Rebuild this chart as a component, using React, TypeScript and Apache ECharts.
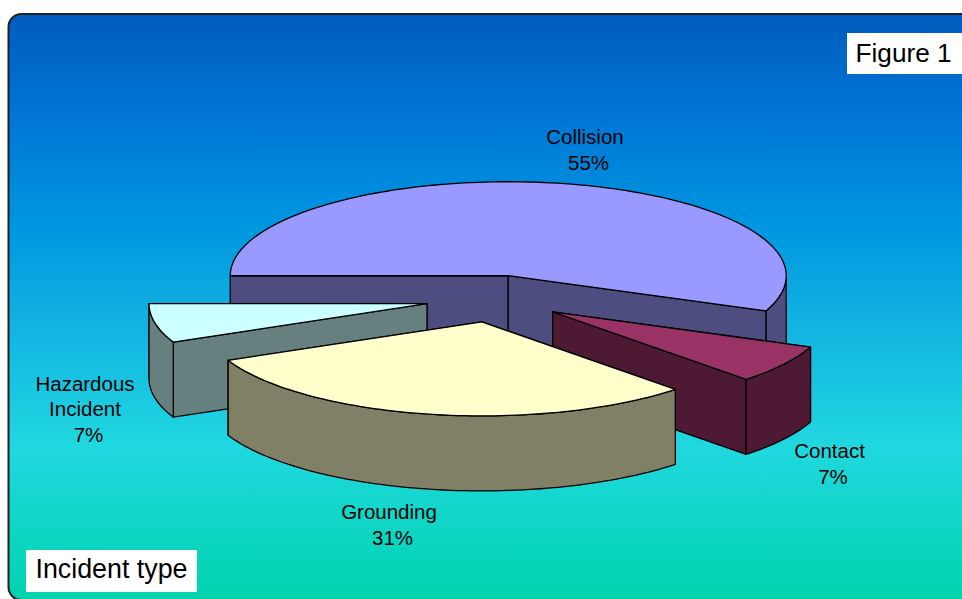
import React, { useEffect, useRef } from "react";
import * as echarts from "echarts";

const categories = ["Collision", "Contact", "Grounding", "Hazardous\nIncident"];
const labelPercents = [55, 7, 31, 7];
const sliceShares = [56.1, 6.65, 30.55, 6.7];
const topColors = ["#9999FF", "#993366", "#FFFFCC", "#CCFFFF"];
const wallColors = ["#4D4D80", "#4D1933", "#808066", "#668080"];
// Back to front painting order
const drawOrder = [0, 3, 1, 2];
const labelPositions = [
  [585, 149.5],
  [829.5, 463.5],
  [389, 524.5],
  [85, 422],
];

const CX = 495;
const CY = 298.8;
const RX = 278;
const RY = 94;
const DEPTH = 75;
const EXPLODE = 0.25;
const START_ANGLE = 180;
const FONT = "'Liberation Sans', Arial, sans-serif";
const STROKE = "#000";
const PCT_SHIFT = 3.5;

const shareTotal = sliceShares.reduce((a, b) => a + b, 0);
const startAngles: number[] = [];
sliceShares.reduce((acc, s, i) => {
  startAngles[i] = acc;
  return acc + (s / shareTotal) * 360;
}, START_ANGLE);

const rad = (d: number) => (d * Math.PI) / 180;

function arcPoints(ax: number, ay: number, from: number, to: number) {
  const n = Math.max(2, Math.ceil(Math.abs(to - from) / 1.5));
  const pts: number[][] = [];
  for (let i = 0; i <= n; i++) {
    const t = rad(from + ((to - from) * i) / n);
    pts.push([ax + RX * Math.cos(t), ay + RY * Math.sin(t)]);
  }
  return pts;
}

function renderSlice(_params: any, api: any) {
  const idx = api.value(0);
  const a0 = api.value(1);
  const a1 = a0 + (api.value(2) / shareTotal) * 360;
  const mid = rad((a0 + a1) / 2);
  const ax = CX + EXPLODE * RX * Math.cos(mid);
  const ay = CY + EXPLODE * RY * Math.sin(mid);
  const wall = wallColors[idx];
  const style = { fill: wall, stroke: STROKE, lineWidth: 1.3, lineJoin: "round" };
  const children: any[] = [];

  // Cut faces: the one reaching lower on screen faces the viewer and is painted last.
  [a0, a1]
    .slice()
    .sort((p, q) => Math.sin(rad(p)) - Math.sin(rad(q)))
    .forEach((angle) => {
      const t = rad(angle);
      const ex = ax + RX * Math.cos(t);
      const ey = ay + RY * Math.sin(t);
      children.push({
        type: "polygon",
        shape: { points: [[ax, ay], [ex, ey], [ex, ey + DEPTH], [ax, ay + DEPTH]] },
        style,
      });
    });

  [0, 360].forEach((k) => {
    const lo = Math.max(a0, k);
    const hi = Math.min(a1, k + 180);
    if (hi > lo) {
      const upper = arcPoints(ax, ay, lo, hi);
      const lower = upper.map((p) => [p[0], p[1] + DEPTH]).reverse();
      children.push({ type: "polygon", shape: { points: upper.concat(lower) }, style });
    }
  });

  children.push({
    type: "polygon",
    shape: { points: [[ax, ay], ...arcPoints(ax, ay, a0, a1)] },
    style: { ...style, fill: topColors[idx] },
  });

  const labelStyle = {
    fill: "#000",
    fontSize: 20.5,
    fontFamily: FONT,
    align: "center",
    lineHeight: 25.5,
  };
  children.push({
    type: "text",
    style: {
      ...labelStyle,
      text: categories[idx],
      x: labelPositions[idx][0],
      y: labelPositions[idx][1] - 0.5,
      verticalAlign: "bottom",
    },
  });
  children.push({
    type: "text",
    style: {
      ...labelStyle,
      text: `${labelPercents[idx]}%`,
      x: labelPositions[idx][0] + PCT_SHIFT,
      y: labelPositions[idx][1],
      verticalAlign: "top",
    },
  });

  return { type: "group", children };
}

export default function App() {
  const ref = useRef<HTMLDivElement>(null);
  useEffect(() => {
    const chart = echarts.init(ref.current!, null, { renderer: "svg" });
    chart.setOption({
      animation: false,
      backgroundColor: "#fff",
      graphic: [
        {
          type: "rect",
          z: 0,
          shape: { x: 8.5, y: 14, width: 980, height: 586, r: 13 },
          style: {
            fill: new echarts.graphic.LinearGradient(0, 0, 0, 1, [
              { offset: 0, color: "#005CBE" },
              { offset: 0.17, color: "#0075D5" },
              { offset: 0.36, color: "#0096E0" },
              { offset: 0.56, color: "#14B8E2" },
              { offset: 0.74, color: "#20D8DF" },
              { offset: 1, color: "#00D3AE" },
            ]),
            stroke: "#222",
            lineWidth: 2,
          },
        },
        {
          type: "rect",
          z: 5,
          shape: { x: 847, y: 33, width: 115, height: 41 },
          style: { fill: "#fff" },
        },
        {
          type: "text",
          z: 6,
          style: {
            text: "Figure 1",
            x: 855.5,
            y: 53,
            fill: "#000",
            fontSize: 26.2,
            fontFamily: FONT,
            verticalAlign: "middle",
          },
        },
        {
          type: "rect",
          z: 5,
          shape: { x: 26, y: 550, width: 171, height: 42 },
          style: { fill: "#fff" },
        },
        {
          type: "text",
          z: 6,
          style: {
            text: "Incident type",
            x: 35.5,
            y: 569,
            fill: "#000",
            fontSize: 26.8,
            fontFamily: FONT,
            verticalAlign: "middle",
          },
        },
      ],
      series: [
        {
          type: "custom",
          coordinateSystem: "none",
          z: 2,
          silent: true,
          renderItem: renderSlice,
          data: drawOrder.map((i) => [i, startAngles[i], sliceShares[i]]),
        },
      ],
    });
    return () => chart.dispose();
  }, []);
  return (
    <div
      ref={ref}
      style={{ position: "fixed", left: 0, top: 0, width: 962, height: 599, background: "#fff" }}
    />
  );
}
